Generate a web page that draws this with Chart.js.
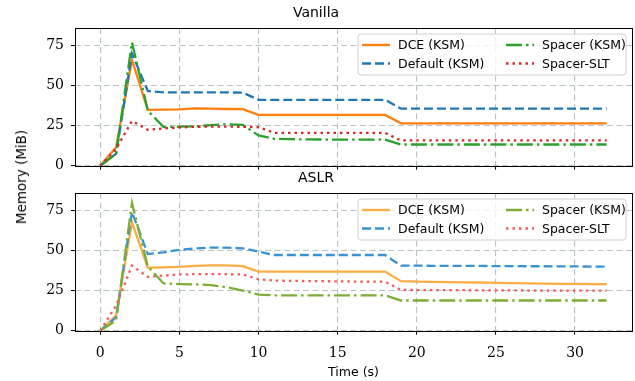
<!DOCTYPE html>
<html>
<head>
<meta charset="utf-8">
<script src="https://cdn.jsdelivr.net/npm/chart.js@4.4.1/dist/chart.umd.min.js"></script>
<style>
  html, body { margin: 0; padding: 0; background: #fff; }
  #wrap { position: relative; width: 635px; height: 381px; overflow: hidden; }
  canvas { position: absolute; left: 0; }
  #ylabel {
    position: absolute; left: 21px; top: 177px;
    transform: translate(-50%, -50%) rotate(-90deg);
    white-space: nowrap; font: 13.5px "DejaVu Sans", sans-serif; color: #000;
  }
</style>
</head>
<body>
<div id="wrap">
  <canvas id="vanillaChart" width="635" height="186" style="top:0px"></canvas>
  <canvas id="aslrChart" width="635" height="216" style="top:165px"></canvas>
  <div id="ylabel">Memory (MiB)</div>
</div>
<script>
// Time axis (seconds)
const times = [0, 1, 2, 3, 4, 5, 6, 7, 8, 9, 10, 11, 12, 13, 14, 15, 16,
  17, 18, 19, 20, 21, 22, 23, 24, 25, 26, 27, 28, 29, 30, 31, 32];
const xTicks = [0, 5, 10, 15, 20, 25, 30];
const yTicks = [0, 25, 50, 75];
const seriesLabels = ['DCE (KSM)', 'Default (KSM)', 'Spacer (KSM)', 'Spacer-SLT'];

// Vanilla panel (MiB)
const vanillaDCE = [0, 11.5, 65.8, 34.8, 34.9, 35.1, 35.7, 35.5, 35.3, 35.2,
  31.6, 31.6, 31.6, 31.6, 31.6, 31.6, 31.6, 31.6, 31.6,
  26.4, 26.4, 26.4, 26.4, 26.4, 26.4, 26.4, 26.4, 26.4, 26.4, 26.4, 26.4, 26.4, 26.4];
const vanillaDefault = [0, 7.5, 69.8, 46.5, 45.6, 45.6, 45.6, 45.6, 45.6, 45.5,
  41.0, 41.0, 41.0, 41.0, 41.0, 41.0, 41.0, 41.0, 41.0,
  35.5, 35.5, 35.5, 35.5, 35.5, 35.5, 35.5, 35.5, 35.5, 35.5, 35.5, 35.5, 35.5, 35.5];
const vanillaSpacer = [0, 7.5, 76.8, 34.3, 24.0, 24.3, 24.5, 25.2, 25.8, 25.4,
  18.8, 16.7, 16.5, 16.4, 16.3, 16.2, 16.2, 16.2, 16.2,
  13.2, 13.2, 13.2, 13.2, 13.2, 13.2, 13.2, 13.2, 13.2, 13.2, 13.2, 13.2, 13.2, 13.2];
const vanillaSLT = [0, 10.5, 27.8, 22.4, 23.2, 23.8, 24.2, 24.3, 24.3, 24.2,
  24.0, 20.4, 20.4, 20.4, 20.4, 20.4, 20.4, 20.4, 20.4,
  15.7, 15.7, 15.7, 15.7, 15.7, 15.7, 15.7, 15.7, 15.7, 15.7, 15.7, 15.7, 15.7, 15.7];

// ASLR panel (MiB)
const aslrDCE = [0, 9.5, 67.6, 39.2, 39.4, 39.7, 40.3, 40.6, 40.6, 40.2,
  36.8, 36.8, 36.8, 36.8, 36.8, 36.8, 36.8, 36.8, 36.8,
  30.8, 30.6, 30.4, 30.2, 30.1, 30.0, 29.8, 29.6, 29.5, 29.3, 29.2, 29.1, 29.0, 28.9];
const aslrDefault = [0, 8.4, 73.8, 47.7, 48.8, 50.3, 51.2, 51.7, 51.7, 51.3,
  49.2, 47.1, 47.1, 47.1, 47.1, 47.1, 47.1, 47.1, 47.1,
  40.5, 40.5, 40.4, 40.4, 40.3, 40.3, 40.2, 40.2, 40.1, 40.1, 40.0, 40.0, 39.9, 39.9];
const aslrSpacer = [0, 6.4, 79.5, 40.0, 29.4, 29.0, 28.8, 28.4, 27.0, 25.0,
  22.5, 22.0, 22.0, 22.0, 22.0, 22.0, 22.0, 22.0, 22.0,
  18.8, 18.8, 18.8, 18.8, 18.8, 18.8, 18.8, 18.8, 18.8, 18.8, 18.8, 18.8, 18.8, 18.8];
const aslrSLT = [0, 15.7, 40.5, 33.5, 34.3, 35.0, 35.2, 35.2, 35.2, 35.0,
  32.0, 31.2, 31.0, 30.9, 30.8, 30.7, 30.6, 30.6, 30.5,
  25.4, 25.3, 25.3, 25.2, 25.2, 25.1, 25.1, 25.1, 25.0, 25.0, 25.0, 25.0, 25.0, 25.0];

const vanillaColors = ['#ff7f0e', '#1f77b4', '#2ca02c', '#d62728'];
const aslrColors = ['#fbad45', '#3a92d2', '#7cae36', '#f25c5c'];

const LW = 2.3;
const dashes = [[], [9, 4], [16, 4, 2.5, 4], [2.5, 4]];

const sansFont = '"DejaVu Sans", sans-serif';
const serifFont = '"DejaVu Serif", serif';

function toPoints(values) {
  return values.map((v, i) => ({ x: times[i], y: v }));
}

function buildDatasets(valueLists, colors) {
  return valueLists.map((values, i) => ({
    label: seriesLabels[i],
    data: toPoints(values),
    borderColor: colors[i],
    backgroundColor: colors[i],
    borderWidth: LW,
    borderDash: dashes[i],
    borderCapStyle: 'butt',
    pointRadius: 0,
    tension: 0,
    fill: false,
    order: 4 - i
  }));
}

// Box around the plot + matplotlib-like two-column legend
const framePlugin = {
  id: 'frame',
  afterDraw(chart) {
    const { ctx, chartArea: a } = chart;
    const ds = chart.data.datasets;
    ctx.save();

    // legend box
    const bx = a.right - 274, by = a.top + 6, bw = 268, bh = 41;
    ctx.beginPath();
    ctx.roundRect(bx, by, bw, bh, 3);
    ctx.fillStyle = 'rgba(255,255,255,0.8)';
    ctx.fill();
    ctx.strokeStyle = '#d0d0d0';
    ctx.lineWidth = 1;
    ctx.setLineDash([]);
    ctx.stroke();

    const slots = [[0, 0], [0, 1], [1, 0], [1, 1]];
    ctx.font = '12.5px ' + sansFont;
    ctx.textBaseline = 'middle';
    ds.forEach((d, i) => {
      const col = slots[i][0], row = slots[i][1];
      const sx = bx + 4 + col * 144;
      const sy = by + 11 + row * 18.5;
      ctx.beginPath();
      ctx.setLineDash(d.borderDash);
      ctx.lineCap = 'butt';
      ctx.strokeStyle = d.borderColor;
      ctx.lineWidth = LW;
      ctx.moveTo(sx, sy);
      ctx.lineTo(sx + 28, sy);
      ctx.stroke();
      ctx.setLineDash([]);
      ctx.fillStyle = '#000';
      ctx.fillText(d.label, sx + 36, sy + 1);
    });

    // spines
    ctx.strokeStyle = '#000';
    ctx.lineWidth = 1;
    ctx.strokeRect(Math.round(a.left) + 0.5, Math.round(a.top) + 0.5,
      Math.round(a.right - a.left), Math.round(a.bottom - a.top));
    ctx.restore();
  }
};

function makeChart(canvasId, title, datasets, showX, xHeight) {
  return new Chart(document.getElementById(canvasId).getContext('2d'), {
    type: 'line',
    data: { datasets: datasets },
    plugins: [framePlugin],
    options: {
      responsive: false,
      animation: false,
      events: [],
      layout: { padding: { left: 0, right: 3, top: 0, bottom: 0 } },
      plugins: {
        legend: { display: false },
        tooltip: { enabled: false },
        title: {
          display: true,
          text: title,
          color: '#000',
          font: { family: sansFont, size: 14, weight: 'normal', lineHeight: 1.2 },
          padding: { top: 5, bottom: 6.2 }
        }
      },
      scales: {
        x: {
          type: 'linear',
          min: -1.6,
          max: 33.6,
          afterBuildTicks: (s) => { s.ticks = xTicks.map(v => ({ value: v })); },
          afterFit: (s) => { s.height = xHeight; },
          grid: {
            color: '#b7c4c4',
            lineWidth: 1.1,
            tickColor: '#000',
            tickLength: 4,
            tickWidth: 1,
            tickBorderDash: []
          },
          border: { display: false, dash: [6, 3.5] },
          ticks: {
            display: showX,
            color: '#000',
            padding: 10,
            maxRotation: 0,
            font: { family: serifFont, size: 14 }
          },
          title: {
            display: showX,
            text: 'Time (s)',
            color: '#000',
            font: { family: sansFont, size: 12.5 },
            padding: { top: 0, bottom: 1 }
          }
        },
        y: {
          min: 0,
          max: 85.7,
          afterBuildTicks: (s) => { s.ticks = yTicks.map(v => ({ value: v })); },
          afterFit: (s) => { s.width = 75; },
          grid: {
            color: '#b7c4c4',
            lineWidth: 1.1,
            tickColor: '#000',
            tickLength: 4,
            tickWidth: 1,
            tickBorderDash: []
          },
          border: { display: false, dash: [6, 3.5] },
          ticks: {
            color: '#000',
            padding: 7,
            font: { family: serifFont, size: 14 }
          }
        }
      }
    }
  });
}

makeChart('vanillaChart', 'Vanilla',
  buildDatasets([vanillaDCE, vanillaDefault, vanillaSpacer, vanillaSLT], vanillaColors),
  false, 20.3);
makeChart('aslrChart', 'ASLR',
  buildDatasets([aslrDCE, aslrDefault, aslrSpacer, aslrSLT], aslrColors),
  true, 50.3);
</script>
</body>
</html>
